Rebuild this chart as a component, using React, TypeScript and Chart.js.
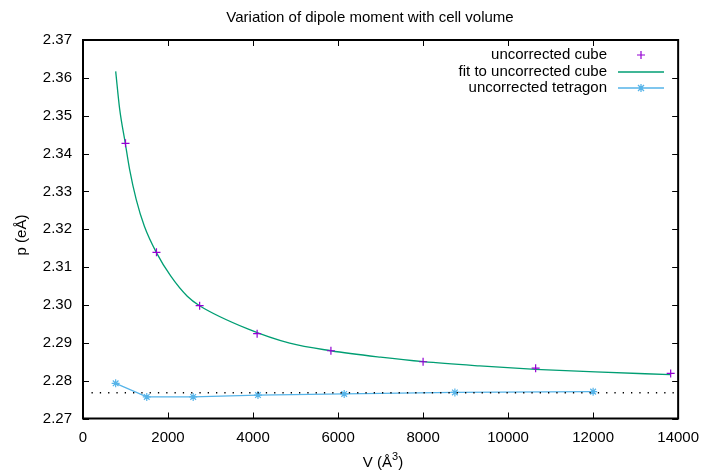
import React, { useEffect, useRef } from "react";
import { Chart, registerables } from "chart.js";
Chart.register(...registerables);

const titleText = "Variation of dipole moment with cell volume";
const xLabelMain = "V (Å";
const xLabelSup = "3";
const xLabelEnd = ")";
const yLabelText = "p (eÅ)";
const legendLabels = ["uncorrected cube", "fit to uncorrected cube", "uncorrected tetragon"];

const cubeV = [1000, 1728, 2744, 4096, 5832, 8000, 10648, 13824];
const cubeP = [2.3427, 2.3139, 2.2998, 2.2924, 2.2879, 2.285, 2.2833, 2.2819];

const fitV = [769, 862, 995, 1095, 1251, 1444, 1724, 2066, 2453, 2742, 3890, 4862, 5832, 6998, 8010, 9330, 10645, 12052, 13817];
const fitP = [2.3617, 2.3518, 2.3427, 2.3359, 2.3279, 2.3208, 2.3139, 2.3076, 2.3023, 2.2998, 2.2936, 2.2899, 2.2879, 2.2862, 2.285, 2.2839, 2.283, 2.2823, 2.2816];

const tetV = [768, 1500, 2592, 4116, 6144, 8748, 12000];
const tetP = [2.2793, 2.2757, 2.2757, 2.2762, 2.2765, 2.2769, 2.2771];

const asymV = [200, 14000];
const asymP = [2.2768, 2.2768];

const xMin = 0, xMax = 14000, xStep = 2000;
const yMin = 2.27, yMax = 2.37, yStep = 0.01;

const C_CUBE = "#9400d3";
const C_FIT = "#009e73";
const C_TET = "#56b4e9";
const FONT = '"Liberation Sans", Arial, sans-serif';

const pts = (xs: number[], ys: number[]) => xs.map((x, i) => ({ x, y: ys[i] }));

const decorPlugin = {
  id: "decor",
  afterDraw(chart: any) {
    const ctx = chart.ctx as CanvasRenderingContext2D;
    const { left, right, top, bottom } = chart.chartArea;
    const xs = chart.scales.x;
    const ys = chart.scales.y;
    ctx.save();
    ctx.strokeStyle = "#000";
    ctx.lineWidth = 1;
    const tl = 6;
    for (let v = xMin; v <= xMax + 1e-6; v += xStep) {
      const px = Math.round(xs.getPixelForValue(v)) + 0.5;
      ctx.beginPath();
      ctx.moveTo(px, bottom);
      ctx.lineTo(px, bottom - tl);
      ctx.moveTo(px, top);
      ctx.lineTo(px, top + tl);
      ctx.stroke();
    }
    for (let i = 0; i <= Math.round((yMax - yMin) / yStep); i++) {
      const v = yMin + i * yStep;
      const py = Math.round(ys.getPixelForValue(v)) + 0.5;
      ctx.beginPath();
      ctx.moveTo(left, py);
      ctx.lineTo(left + tl, py);
      ctx.moveTo(right, py);
      ctx.lineTo(right - tl, py);
      ctx.stroke();
    }
    ctx.lineWidth = 2;
    ctx.strokeRect(left, top, right - left, bottom - top);

    ctx.fillStyle = "#000";
    ctx.font = `15px ${FONT}`;
    ctx.textAlign = "center";
    ctx.textBaseline = "alphabetic";
    ctx.fillText(titleText, 370, 22);

    ctx.save();
    ctx.translate(22, 235);
    ctx.rotate(-Math.PI / 2);
    ctx.textAlign = "center";
    ctx.textBaseline = "middle";
    ctx.fillText(yLabelText, 0, 0);
    ctx.restore();

    ctx.textAlign = "left";
    ctx.textBaseline = "alphabetic";
    ctx.font = `15px ${FONT}`;
    const w1 = ctx.measureText(xLabelMain).width;
    const w3 = ctx.measureText(xLabelEnd).width;
    ctx.font = `11px ${FONT}`;
    const w2 = ctx.measureText(xLabelSup).width;
    const total = w1 + w2 + w3;
    const sx = 383 - total / 2;
    const by = 467;
    ctx.font = `15px ${FONT}`;
    ctx.fillText(xLabelMain, sx, by);
    ctx.font = `11px ${FONT}`;
    ctx.fillText(xLabelSup, sx + w1, by - 7);
    ctx.font = `15px ${FONT}`;
    ctx.fillText(xLabelEnd, sx + w1 + w2, by);

    ctx.textAlign = "right";
    ctx.textBaseline = "middle";
    const rows = [55, 72, 88];
    legendLabels.forEach((t, i) => ctx.fillText(t, 607, rows[i]));
    const mx = 641;
    ctx.strokeStyle = C_CUBE;
    ctx.lineWidth = 1.2;
    ctx.beginPath();
    ctx.moveTo(mx - 4, rows[0]);
    ctx.lineTo(mx + 4, rows[0]);
    ctx.moveTo(mx, rows[0] - 4);
    ctx.lineTo(mx, rows[0] + 4);
    ctx.stroke();
    ctx.strokeStyle = C_FIT;
    ctx.lineWidth = 1.3;
    ctx.beginPath();
    ctx.moveTo(618, rows[1]);
    ctx.lineTo(664, rows[1]);
    ctx.stroke();
    ctx.strokeStyle = C_TET;
    ctx.beginPath();
    ctx.moveTo(618, rows[2]);
    ctx.lineTo(664, rows[2]);
    ctx.moveTo(mx - 4, rows[2]);
    ctx.lineTo(mx + 4, rows[2]);
    ctx.moveTo(mx, rows[2] - 4);
    ctx.lineTo(mx, rows[2] + 4);
    ctx.moveTo(mx - 3, rows[2] - 3);
    ctx.lineTo(mx + 3, rows[2] + 3);
    ctx.moveTo(mx - 3, rows[2] + 3);
    ctx.lineTo(mx + 3, rows[2] - 3);
    ctx.stroke();
    ctx.restore();
  },
};

export default function App() {
  const ref = useRef<HTMLCanvasElement | null>(null);
  useEffect(() => {
    if (!ref.current) return;
    const chart = new Chart(ref.current, {
      type: "line",
      data: {
        datasets: [
          {
            label: "asymptote",
            data: pts(asymV, asymP),
            borderColor: "#000",
            borderWidth: 1.3,
            borderDash: [1.3, 7],
            pointRadius: 0,
            fill: false,
          },
          {
            label: "uncorrected cube",
            data: pts(cubeV, cubeP),
            showLine: false,
            pointStyle: "cross",
            pointRadius: 4,
            pointBorderWidth: 1.2,
            borderColor: C_CUBE,
            backgroundColor: C_CUBE,
          },
          {
            label: "fit to uncorrected cube",
            data: pts(fitV, fitP),
            borderColor: C_FIT,
            borderWidth: 1.3,
            pointRadius: 0,
            cubicInterpolationMode: "monotone",
            fill: false,
          },
          {
            label: "uncorrected tetragon",
            data: pts(tetV, tetP),
            borderColor: C_TET,
            backgroundColor: C_TET,
            borderWidth: 1.3,
            pointStyle: "star",
            pointRadius: 4,
            pointBorderWidth: 1.2,
            fill: false,
          },
        ],
      },
      options: {
        animation: false,
        responsive: false,
        devicePixelRatio: 1,
        layout: { padding: { left: 0, right: 25, top: 40, bottom: 0 } },
        plugins: { legend: { display: false }, title: { display: false }, tooltip: { enabled: false } },
        scales: {
          x: {
            type: "linear",
            min: xMin,
            max: xMax,
            grid: { display: false, drawTicks: false },
            border: { display: false },
            ticks: {
              stepSize: xStep,
              color: "#000",
              font: { family: FONT, size: 15 },
              padding: 10,
              maxRotation: 0,
              autoSkip: false,
              callback: (v: any) => String(v),
            },
            afterFit: (s: any) => {
              s.height = 51.5;
            },
          },
          y: {
            type: "linear",
            min: yMin,
            max: yMax,
            grid: { display: false, drawTicks: false },
            border: { display: false },
            ticks: {
              stepSize: yStep,
              color: "#000",
              font: { family: FONT, size: 15 },
              padding: 11,
              autoSkip: false,
              callback: (v: any) => Number(v).toFixed(2),
            },
            afterFit: (s: any) => {
              s.width = 83;
            },
          },
        },
      },
      plugins: [decorPlugin],
    } as any);
    return () => chart.destroy();
  }, []);
  return (
    <div style={{ position: "absolute", left: 0, top: 0, width: 709, height: 470, background: "#fff" }}>
      <canvas ref={ref} width={709} height={470} style={{ display: "block", width: 709, height: 470 }} />
    </div>
  );
}
